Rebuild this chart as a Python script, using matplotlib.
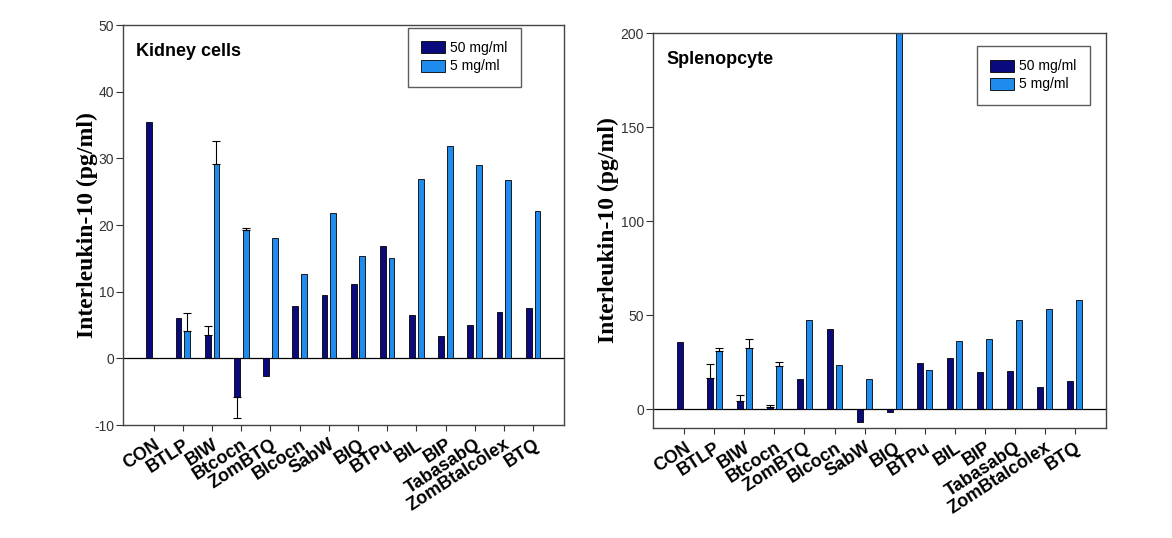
import numpy as np
import matplotlib.pyplot as plt
from matplotlib import font_manager

# categories on the x axis
labels = ["CON", "BTLP", "BIW", "Btcocn", "ZomBTQ", "Blcocn", "SabW", "BIQ",
          "BTPu", "BIL", "BIP", "TabasabQ", "ZomBtalcolex", "BTQ"]

# Kidney cells (pg/ml)
kid_50 = [35.4, 6.0, 3.55, -5.75, -2.7, 7.8, 9.45, 11.15, 16.8, 6.55, 3.3, 5.05, 6.9, 7.55]
kid_5 = [0.0, 4.1, 29.1, 19.25, 18.05, 12.7, 21.75, 15.3, 15.1, 26.95, 31.8, 29.05, 26.7, 22.15]
kid_50_err = [0, 0, 1.3, 3.2, 0, 0, 0, 0, 0, 0, 0, 0, 0, 0]
kid_5_err = [0, 2.7, 3.5, 0.35, 0, 0, 0, 0, 0, 0, 0, 0, 0, 0]

# Splenopcyte (pg/ml)
spl_50 = [35.5, 16.7, 4.4, 0.9, 16.3, 42.7, -6.6, -1.4, 24.6, 27.3, 19.7, 20.2, 11.7, 15.1]
spl_5 = [0.0, 31.2, 32.6, 23.0, 47.5, 23.6, 15.8, 215.0, 20.9, 36.3, 37.2, 47.2, 53.4, 58.3]
spl_50_err = [0, 7.4, 3.2, 1.2, 0, 0, 0, 0, 0, 0, 0, 0, 0, 0]
spl_5_err = [0, 1.1, 4.5, 2.0, 0, 0, 0, 0, 0, 0, 0, 0, 0, 0]

DARK = "#0a0a7c"
LIGHT = "#1f8bec"
W = 0.2

# narrow face for the numbers if it is there
names = {f.name for f in font_manager.fontManager.ttflist}
HAS_NARROW = "Liberation Sans Narrow" in names
NARROW = "Liberation Sans Narrow" if HAS_NARROW else "Liberation Sans"
NUM_SIZE = 12.5 if HAS_NARROW else 10
LEG_SIZE = 12.5 if HAS_NARROW else 10


def one_sided(vals, errs):
    # SigmaPlot style: error goes away from zero only
    vals = np.array(vals)
    errs = np.array(errs)
    lo = np.where(vals < 0, errs, 0)
    hi = np.where(vals >= 0, errs, 0)
    return [lo, hi]


def panel(ax, v50, v5, e50, e5, title, ylim, yticks, legend_pos, ylab_x):
    x = np.arange(len(labels))
    ax.bar(x - 0.15, v50, W, color=DARK, edgecolor="black", linewidth=0.6,
           label="50 mg/ml", zorder=2)
    ax.bar(x + 0.15, v5, W, color=LIGHT, edgecolor="black", linewidth=0.6,
           label="5 mg/ml", zorder=2)
    for xs, v, e in ((x - 0.15, v50, e50), (x + 0.15, v5, e5)):
        m = np.array(e) > 0
        ax.errorbar(xs[m], np.array(v)[m], yerr=np.array(one_sided(v, e))[:, m],
                    fmt="none", ecolor="black", elinewidth=0.8, capsize=3,
                    capthick=0.8, zorder=3)
    ax.axhline(0, color="black", linewidth=0.9, zorder=1)
    ax.set_xlim(-1.05, 14.05)
    ax.set_ylim(*ylim)
    ax.set_yticks(yticks)
    ax.set_yticklabels([str(t) for t in yticks], family=NARROW, fontsize=NUM_SIZE)
    ax.set_xticks(x)
    ax.set_xticklabels(labels, rotation=33, ha="right", rotation_mode="anchor",
                       fontsize=13, fontweight="bold", family="Liberation Sans")
    ax.tick_params(axis="y", length=5, width=0.8, colors="#333333", pad=1.5)
    ax.tick_params(axis="x", length=4, width=0.8, colors="#333333",
                   labelcolor="black", pad=4)
    for s in ax.spines.values():
        s.set_color("#444444")
        s.set_linewidth(1.0)
    ax.set_ylabel("Interleukin-10 (pg/ml)", family="Liberation Serif",
                  fontweight="bold", fontsize=17)
    ax.yaxis.set_label_coords(ylab_x, 0.5)
    ax.text(0.03, 0.955, title, transform=ax.transAxes, fontsize=13,
            fontweight="bold", family="Liberation Sans", va="top")
    leg = ax.legend(loc="upper left", bbox_to_anchor=legend_pos,
                    prop={"family": NARROW, "size": LEG_SIZE},
                    frameon=True, fancybox=False, handlelength=1.75,
                    handleheight=0.95, handletextpad=0.35, borderpad=0.95,
                    labelspacing=0.3, borderaxespad=0)
    leg.get_frame().set_edgecolor("#333333")
    leg.get_frame().set_linewidth(1.0)


plt.rcParams["font.family"] = ["Liberation Sans", "DejaVu Sans"]
fig = plt.figure(figsize=(11.72, 5.38), dpi=100)
ax1 = fig.add_axes([0.105, 0.210, 0.376, 0.7435])
ax2 = fig.add_axes([0.557, 0.2045, 0.387, 0.734])

panel(ax1, kid_50, kid_5, kid_50_err, kid_5_err, "Kidney cells",
      (-10, 50), list(range(-10, 51, 10)), (0.646, 0.9925), -0.058)
panel(ax2, spl_50, spl_5, spl_50_err, spl_5_err, "Splenopcyte",
      (-10, 200), [0, 50, 100, 150, 200], (0.714, 0.967), -0.075)

fig.savefig("out.png", dpi=100)
